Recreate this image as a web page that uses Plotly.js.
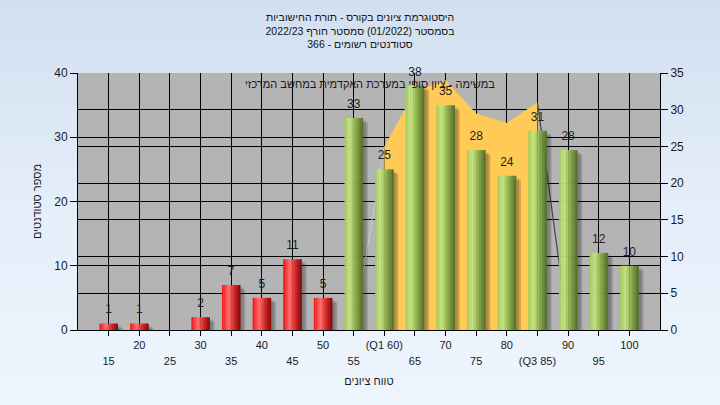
<!DOCTYPE html>
<html>
<head>
<meta charset="utf-8">
<script src="https://cdn.plot.ly/plotly-3.0.1.min.js"></script>
<style>
html,body{margin:0;padding:0;}
body{width:720px;height:405px;overflow:hidden;background:linear-gradient(to bottom,#d2dff0 0%,#e4eef9 50%,#eef5fd 100%);}
#chart{width:720px;height:405px;}
</style>
</head>
<body>
<div id="chart"></div>
<script>
// ---- data ----
const grades = [15,20,25,30,35,40,45,50,55,60,65,70,75,80,85,90,95,100];
const tickLabels = ['15','20','25','30','35','40','45','50','55','(Q1 60)','65','70','75','80','(Q3 85)','90','95','100'];
const students = [1,1,0,2,7,5,11,5,33,25,38,35,28,24,31,28,12,10];
const areaGrades = [55,60,65,70,75,80,85,90];
const areaValues = [0,25,32.5,34,29.5,28.2,31,0];
const titleLines = ['היסטוגרמת ציונים בקורס - תורת החישוביות','בסמסטר (01/2022) סמסטר חורף 2022/23','סטודנטים רשומים - 366'];
const seriesName = 'במשימה - ציון סופי במערכת האקדמית במחשב המרכזי';
const xTitle = 'טווח ציונים';
const yTitle = 'מספר סטודנטים';

// ---- helpers (style only) ----
function hex2rgb(h){return [parseInt(h.substr(1,2),16),parseInt(h.substr(3,2),16),parseInt(h.substr(5,2),16)];}
function grad(stops,t){
  for(let i=1;i<stops.length;i++){
    if(t<=stops[i][0]){
      const a=stops[i-1],b=stops[i];const f=(t-a[0])/(b[0]-a[0]);
      const ca=hex2rgb(a[1]),cb=hex2rgb(b[1]);
      const c=ca.map((v,k)=>Math.round(v+(cb[k]-v)*f));
      return 'rgb('+c.join(',')+')';
    }
  }
  return stops[stops.length-1][1];
}
const greenStops=[[0,'#9cc552'],[0.12,'#b4d86e'],[0.28,'#c8e68a'],[0.45,'#a8cb63'],[0.65,'#86a847'],[0.85,'#688636'],[1,'#4f6a28']];
const redStops=[[0,'#ea1414'],[0.18,'#ff3c3c'],[0.36,'#ff7272'],[0.52,'#f04848'],[0.7,'#cc2222'],[0.86,'#a31212'],[1,'#7e0808']];
const BAR_W=3, N=12, SW=BAR_W/N;

const traces=[];
// orange area (right axis)
traces.push({type:'scatter',x:areaGrades.slice(1,-1),y:areaValues.slice(1,-1),xaxis:'x',yaxis:'y',
  mode:'lines',fill:'tozeroy',fillcolor:'#ffca55',line:{width:0,color:'#ffca55'},hoverinfo:'skip'});
traces.push({type:'scatter',x:areaGrades.slice(0,2),y:areaValues.slice(0,2),xaxis:'x',yaxis:'y',
  mode:'lines',line:{width:1,color:'#cdcdcd'},hoverinfo:'skip'});
traces.push({type:'scatter',x:areaGrades.slice(-2),y:areaValues.slice(-2),xaxis:'x',yaxis:'y',
  mode:'lines',line:{width:1.2,color:'#474747'},hoverinfo:'skip'});
// shadows
traces.push({type:'bar',x:grades,y:students.map(v=>v>0?v-0.2:0),base:-0.5,xaxis:'x',yaxis:'y2',
  width:BAR_W+0.35,offset:-BAR_W/2+0.45,marker:{color:'rgba(30,30,30,0.2)',line:{width:0}},cliponaxis:false,hoverinfo:'skip'});
traces.push({type:'bar',x:grades,y:students.map(v=>v>0?v-0.1:0),base:-0.3,xaxis:'x',yaxis:'y2',
  width:BAR_W+0.2,offset:-BAR_W/2+0.3,marker:{color:'rgba(30,30,30,0.2)',line:{width:0}},cliponaxis:false,hoverinfo:'skip'});
// gradient strips
for(let i=0;i<N;i++){
  const t=(i+0.5)/N;
  traces.push({type:'bar',x:grades,y:students,xaxis:'x',yaxis:'y2',
    width:SW*1.15,offset:-BAR_W/2+i*SW,
    marker:{color:grades.map(g=>g<=50?grad(redStops,t):grad(greenStops,t)),line:{width:0}},hoverinfo:'skip'});
}
// value labels (on the second x axis, which carries the lower row of tick labels)
traces.push({type:'scatter',x:grades,y:students,xaxis:'x2',yaxis:'y2',mode:'markers+text',
  marker:{size:10,opacity:0},
  text:students.map(v=>v>0?String(v):''),textposition:'top center',
  textfont:{size:12,color:'#1e1e28',family:'Liberation Sans, Arial, sans-serif'},cliponaxis:false,hoverinfo:'skip'});

const layout={
  width:720,height:405,margin:{l:78,r:60,t:73,b:75},
  paper_bgcolor:'rgba(0,0,0,0)',plot_bgcolor:'#b4b4b4',
  font:{family:'Liberation Sans, Arial, sans-serif',size:11,color:'#1a1a1a'},
  title:{text:titleLines.join('<br>'),x:0.5,xanchor:'center',xref:'container',y:0.948,yanchor:'top',yref:'container',
    font:{size:10.5,color:'#141414'}},
  barmode:'overlay',showlegend:false,
  xaxis:{range:[10,105],tickmode:'array',tickvals:grades,ticktext:tickLabels.map((t,i)=>i%2===1?t:''),
    ticks:'outside',ticklen:5,tickcolor:'#000',showline:true,linecolor:'#000',showgrid:true,gridcolor:'#000',gridwidth:1,
    zeroline:false,tickfont:{size:11,color:'#1a1a1a'},title:{text:xTitle,standoff:27,font:{size:11,color:'#1a1a1a'}}},
  xaxis2:{overlaying:'x',anchor:'y2',side:'bottom',range:[10,105],tickmode:'array',tickvals:grades,
    ticktext:tickLabels.map((t,i)=>i%2===0?t:''),ticks:'',showline:false,showgrid:false,zeroline:false,
    ticklabelstandoff:23,tickfont:{size:11,color:'#1a1a1a'}},
  yaxis:{side:'right',range:[0,35],tickmode:'linear',tick0:0,dtick:5,ticks:'outside',ticklen:7,tickcolor:'#000',
    showline:true,linecolor:'#000',showgrid:true,gridcolor:'#000',zeroline:false,tickfont:{size:12,color:'#1a1a1a'}},
  yaxis2:{overlaying:'y',side:'left',range:[0,40],tickmode:'linear',tick0:0,dtick:10,ticks:'outside',ticklen:7,tickcolor:'#000',
    showline:true,linecolor:'#000',showgrid:true,gridcolor:'#000',zeroline:false,tickfont:{size:12,color:'#1a1a1a'},
    title:{text:yTitle,standoff:10,font:{size:11,color:'#1a1a1a'}}},
  annotations:[{text:seriesName,xref:'paper',yref:'paper',x:0.502,y:0.957,xanchor:'center',yanchor:'middle',
    showarrow:false,font:{size:11,color:'#1a1a1a'}}]
};
Plotly.newPlot('chart',traces,layout,{staticPlot:true,displayModeBar:false});
</script>
</body>
</html>
